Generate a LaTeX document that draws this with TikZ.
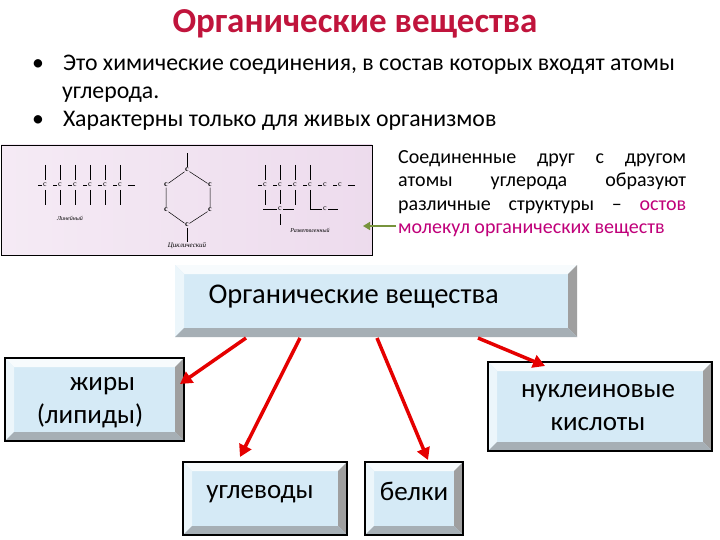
\documentclass[tikz,border=0pt]{standalone}
\usepackage{fontspec}
\setmainfont{Carlito}
\newfontfamily\serifc{Liberation Serif}
\usetikzlibrary{arrows.meta}
\definecolor{face}{HTML}{D5EAF6}
\definecolor{ttl}{HTML}{C0143C}
\definecolor{mag}{HTML}{C0007A}
\definecolor{grn}{HTML}{77933C}
\newcommand\bevbox[6]{% x1 y1 x2 y2 depth outline
  \fill[face] (#1,#2) rectangle (#3,#4);
  \fill[white!80!face] (#1,#2)--(#3,#2)--(#3-#5,#2+#5)--(#1+#5,#2+#5)--cycle;
  \fill[white!55!face] (#1,#2)--(#1+#5,#2+#5)--(#1+#5,#4-#5)--(#1,#4)--cycle;
  \fill[gray!75] (#3,#2)--(#3,#4)--(#3-#5,#4-#5)--(#3-#5,#2+#5)--cycle;
  \fill[gray!55!face] (#1,#4)--(#3,#4)--(#3-#5,#4-#5)--(#1+#5,#4-#5)--cycle;
  \draw[#6] (#1,#2) rectangle (#3,#4);}
\newcommand\jline[1]{\makebox[288pt][s]{#1}}
\tikzset{arr/.style={red!90!black,line width=3.5pt,-{Triangle[length=12pt,width=13pt]}},
  lbl/.style={font=\fontsize{27}{33}\selectfont,align=center},
  chem/.style={font=\serifc\fontsize{8}{8}\selectfont,inner sep=0.5pt,fill=none},
  bond/.style={line width=0.5pt}}
\begin{document}
\begin{tikzpicture}[x=1pt,y=-1pt]
\useasboundingbox (0,0) rectangle (720,540);
\fill[white] (0,0) rectangle (720,540);
\node[font=\bfseries\fontsize{35}{38}\selectfont,text=ttl] (title) at (355,24) {Органические вещества};
\node[font=\fontsize{23.8}{28}\selectfont,anchor=north west,align=left,inner sep=0] (b1) at (62,55)
 {\hspace*{-30pt}\textbullet\hspace{19pt}Это химические соединения, в состав которых входят атомы\\углерода.\\\hspace*{-30pt}\textbullet\hspace{19pt}Характерны только для живых организмов};
% image
\shade[left color=violet!8,right color=violet!14] (1,145) rectangle (372,255);
\draw[line width=0.8pt] (1,145) rectangle (372,255);
% linear
\foreach \i in {0,...,5}{
  \node[chem] (l\i) at (45+15*\i,185) {c};
  \draw[bond] (45+15*\i,165)--(45+15*\i,180) (45+15*\i,190)--(45+15*\i,205);
  \draw[bond] (38+15*\i,185)--(42+15*\i,185);}
\draw[bond] (128,185)--(135,185);
\node[font=\serifc\itshape\fontsize{6}{6}\selectfont] (lin) at (70,218) {Линейный};
% cyclic
\node[chem,font=\serifc\bfseries\fontsize{8}{8}\selectfont] (c1) at (187,170) {c};
\node[chem,font=\serifc\bfseries\fontsize{8}{8}\selectfont] (c2) at (210,185) {c};
\node[chem,font=\serifc\bfseries\fontsize{8}{8}\selectfont] (c3) at (210,210) {c};
\node[chem,font=\serifc\bfseries\fontsize{8}{8}\selectfont] (c4) at (187,225) {c};
\node[chem,font=\serifc\bfseries\fontsize{8}{8}\selectfont] (c5) at (166,210) {c};
\node[chem,font=\serifc\bfseries\fontsize{8}{8}\selectfont] (c6) at (166,185) {c};
\draw[bond] (c1)--(c2) (c2)--(c3) (c3)--(c4) (c4)--(c5) (c5)--(c6) (c6)--(c1);
\draw[bond] (c1.north)--++(0,-14) (c4.south)--++(0,14);
\node[font=\serifc\itshape\fontsize{7}{7}\selectfont] (cyc) at (187,246) {Циклический};
% branched
\foreach \i in {0,...,5}{
  \node[chem] (r\i) at (265+15*\i,185) {c};
  \draw[bond] (258+15*\i,185)--(262+15*\i,185);}
\draw[bond] (348,185)--(355,185);
\foreach \i in {0,...,3}{\draw[bond] (265+15*\i,165)--(265+15*\i,180);}
\draw[bond] (265,190)--(265,205) (295,190)--(295,205) (310,190)--(310,209);
\node[chem] (rb1) at (280,209) {c};
\draw[bond] (280,190)--(280,204) (280,214)--(280,225) (263,209)--(277,209) (283,209)--(294,209);
\node[chem] (rb2) at (325,209) {c};
\draw[bond] (310,209)--(322,209) (328,209)--(338,209);
\node[font=\serifc\itshape\fontsize{6}{6}\selectfont] (raz) at (310,230) {Разветвленный};
% right text
\node[font=\fontsize{20}{23.5}\selectfont,anchor=north west,align=left,inner sep=0] (desc) at (398,150)
 {\jline{Соединенные друг с другом}\\\jline{атомы углерода образуют}\\\jline{различные структуры – \textcolor{mag}{остов}}\\\textcolor{mag}{молекул органических веществ}};
\coordinate (ga) at (396,226); \coordinate (gb) at (363,226);
\draw[grn,line width=1.5pt,-{Triangle[length=7pt,width=8pt]}] (ga)--(gb);
% boxes
\bevbox{175}{265}{577}{337}{9}{draw=none}
\node[lbl,anchor=west,font=\fontsize{28.5}{33}\selectfont] (main) at (205,297) {Органические вещества};
\bevbox{5}{358}{184}{441}{9}{black,line width=1.5pt}
\node[lbl] (fat) at (90,403) {\hspace*{25pt}жиры\\(липиды)};
\bevbox{488}{362}{712}{451}{9}{black,line width=1.5pt}
\node[lbl] (nuc) at (598,408) {нуклеиновые\\кислоты};
\bevbox{183}{462}{347}{535}{9}{black,line width=1.5pt}
\node[lbl] (carb) at (260,494) {углеводы};
\bevbox{365}{462}{463}{535}{9}{black,line width=1.5pt}
\node[lbl] (prot) at (414,491) {белки};
\coordinate (s1) at (246,338); \coordinate (e1) at (180,384);
\coordinate (s2) at (300,338); \coordinate (e2) at (240,457);
\coordinate (s3) at (377,338); \coordinate (e3) at (428,460);
\coordinate (s4) at (478,338); \coordinate (e4) at (545,366);
\draw[arr] (s1)--(e1); \draw[arr] (s2)--(e2); \draw[arr] (s3)--(e3); \draw[arr] (s4)--(e4);
\end{tikzpicture}
\end{document}
